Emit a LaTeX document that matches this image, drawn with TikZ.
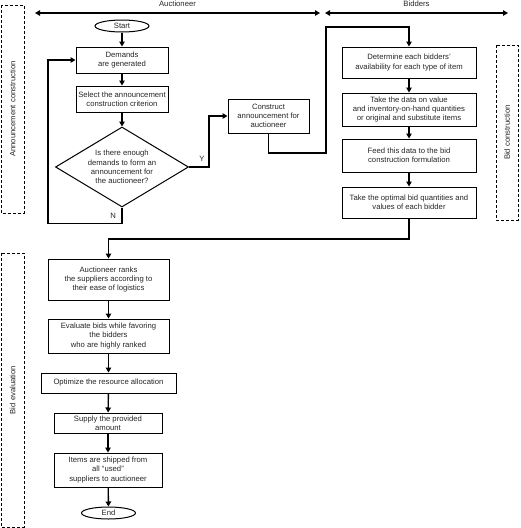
\documentclass[tikz,border=0pt]{standalone}
\usepackage{fontspec}
\setmainfont{Liberation Sans}
\usetikzlibrary{shapes.geometric,arrows.meta}
\begin{document}
\begin{tikzpicture}[x=1pt, y=-1pt,
    every node/.style={font=\fontsize{7.7}{9.2}\selectfont, text=black!85},
    stepbox/.style={draw, line width=1pt, align=center, inner sep=0pt},
    term/.style={draw, ellipse, line width=1pt, minimum width=54pt, minimum height=12pt, inner sep=0pt},
    flow/.style={line width=1.4pt, -{Triangle[length=5pt,width=5.5pt]}},
    span/.style={line width=1.4pt, {Triangle[length=5pt,width=5.5pt]}-{Triangle[length=5pt,width=5.5pt]}},
    lane/.style={draw, dash pattern=on 3pt off 2pt, line width=1pt, rotate=90, minimum height=23pt, inner sep=0pt}]
    \useasboundingbox (0,0) rectangle (520,528);

    % swim lanes
    \coordinate (aucl) at (35,13);
    \coordinate (aucr) at (320,13);
    \coordinate (bidl) at (325,13);
    \coordinate (bidr) at (508,13);
    \draw[span] (aucl) -- (aucr) node[midway, above=2pt] (auclabel) {Auctioneer};
    \draw[span] (bidl) -- (bidr) node[midway, above=2pt] (bidlabel) {Bidders};
    \node[lane, minimum width=208pt] (annlane) at (12.5,109) {Announcement construction};
    \node[lane, minimum width=175pt, minimum height=22pt] (bidlane) at (507,132.5) {Bid construction};
    \node[lane, minimum width=274pt] (evallane) at (12.5,390) {Bid evaluation};

    % announcement construction
    \node[term] (start) at (122,26) {Start};
    \node[stepbox, minimum width=92pt, minimum height=26pt] (demands) at (122,60) {Demands\\are generated};
    \node[stepbox, minimum width=92pt, minimum height=26pt] (select) at (122,99) {Select the announcement\\construction criterion};
    \node[stepbox, diamond, aspect=1.66, minimum width=133pt, minimum height=80pt] (check) at (122,167) {Is there enough\\demands to form an\\announcement for\\the auctioneer?};
    \node[stepbox, minimum width=81pt, minimum height=34pt] (construct) at (268.5,116) {Construct\\announcement for\\auctioneer};

    % bid construction
    \node[stepbox, minimum width=134pt, minimum height=31pt] (determine) at (409,62.5) {Determine each bidders'\\availability for each type of item};
    \node[stepbox, minimum width=134pt, minimum height=33pt] (takedata) at (409,109.5) {Take the data on value\\and inventory-on-hand quantities\\or original and substitute items};
    \node[stepbox, minimum width=134pt, minimum height=33pt] (feed) at (409,155.5) {Feed this data to the bid\\construction formulation};
    \node[stepbox, minimum width=134pt, minimum height=31pt] (optimal) at (409,202.5) {Take the optimal bid quantities and\\values of each bidder};

    % bid evaluation
    \node[stepbox, minimum width=121pt, minimum height=41pt] (ranks) at (108.5,279.5) {Auctioneer ranks\\the suppliers according to\\their ease of logistics};
    \node[stepbox, minimum width=121pt, minimum height=34pt] (evaluate) at (108.5,336) {Evaluate bids while favoring\\the bidders\\who are highly ranked};
    \node[stepbox, minimum width=135pt, minimum height=20pt] (optimize) at (108.5,383) {Optimize the resource allocation};
    \node[stepbox, minimum width=108pt, minimum height=20pt] (supply) at (108,423) {Supply the provided\\amount};
    \node[stepbox, minimum width=108pt, minimum height=34pt] (items) at (108,470) {Items are shipped from\\all ``used''\\suppliers to auctioneer};
    \node[term] (end) at (108.5,513) {End};

    % connectors
    \draw[flow] (start) -- (demands);
    \draw[flow] (demands) -- (select);
    \draw[flow] (select) -- (check);
    \draw[flow] (check.east) -- ++(20,0) node[pos=0.65, above=1pt] (ylabel) {Y} |- (construct.west);
    \draw[flow] (check.south) -- ++(0,16) node[midway, left=2pt] (nlabel) {N} -| (48,60) -- (demands.west);
    \draw[flow] (construct.south) |- (326,153) -- (326,27) -| (determine.north);
    \draw[flow] (determine) -- (takedata);
    \draw[flow] (takedata) -- (feed);
    \draw[flow] (feed) -- (optimal);
    \coordinate (turn) at (108.5,239);
    \draw[flow] (optimal.south) |- (turn) -- (ranks.north);
    \draw[flow] (ranks) -- (evaluate);
    \draw[flow] (evaluate) -- (optimize);
    \draw[flow] (optimize) -- (supply);
    \draw[flow] (supply) -- (items);
    \draw[flow] (items) -- (end);
\end{tikzpicture}
\end{document}
